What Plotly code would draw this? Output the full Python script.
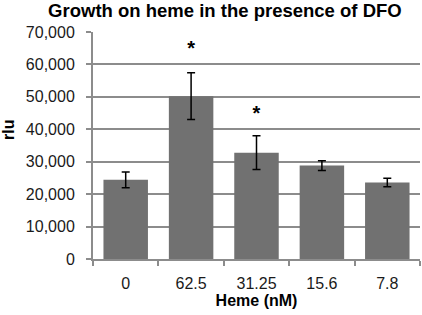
import plotly.graph_objects as go

categories = ["0", "62.5", "31.25", "15.6", "7.8"]
values = [24400, 50200, 32800, 28800, 23600]
errors = [2400, 7200, 5200, 1500, 1300]
star_categories = ["62.5", "31.25"]
star_y = [64400, 44400]

FONT = "Liberation Sans, Arial, sans-serif"
GRID = "#8c8c8c"

fig = go.Figure()
fig.add_trace(go.Bar(
    x=categories, y=values,
    marker=dict(color="#717171", line=dict(width=0)),
    error_y=dict(type="data", array=errors, color="black", thickness=1.5, width=4),
))
fig.add_trace(go.Scatter(
    x=star_categories, y=star_y, mode="text", text=["<b>*</b>"] * len(star_y),
    textfont=dict(family=FONT, size=20, color="black"), hoverinfo="skip",
))
fig.add_annotation(xref="paper", yref="paper", x=-0.26, y=0.568, text="<b>rlu</b>",
                   textangle=-90, showarrow=False, xanchor="center", yanchor="middle",
                   font=dict(family=FONT, size=16, color="black"))

fig.update_layout(
    width=422, height=315,
    margin=dict(l=93, r=2, t=32, b=56),
    paper_bgcolor="white", plot_bgcolor="white",
    bargap=0.32,
    showlegend=False,
    title=dict(text="<b>Growth on heme in the presence of DFO</b>",
               x=0.533, xanchor="center", y=0.968, yanchor="middle",
               font=dict(family=FONT, size=18.5, color="black")),
    font=dict(family=FONT, size=16, color="#1a1a1a"),
)
fig.update_xaxes(
    type="category", categoryorder="array", categoryarray=categories,
    showline=True, linecolor=GRID, linewidth=2,
    ticks="outside", tickson="boundaries", ticklen=5, tickcolor=GRID, tickwidth=2,
    showgrid=False, tickangle=0, ticklabelstandoff=9,
    title=dict(text="<b>Heme (nM)</b>", font=dict(family=FONT, size=16, color="black"), standoff=3),
    tickfont=dict(family=FONT, size=16, color="#1a1a1a"),
)
fig.update_yaxes(
    range=[0, 70000], dtick=10000, tickformat=",",
    showline=True, linecolor=GRID, linewidth=2,
    ticks="outside", ticklen=5, tickcolor=GRID, tickwidth=2, ticklabelstandoff=8,
    showgrid=True, gridcolor=GRID, gridwidth=2, zeroline=False,
    tickfont=dict(family=FONT, size=16, color="#1a1a1a"),
)
fig.write_html("out.html", config={"displayModeBar": False},
               post_script="document.body.style.margin='0';")
